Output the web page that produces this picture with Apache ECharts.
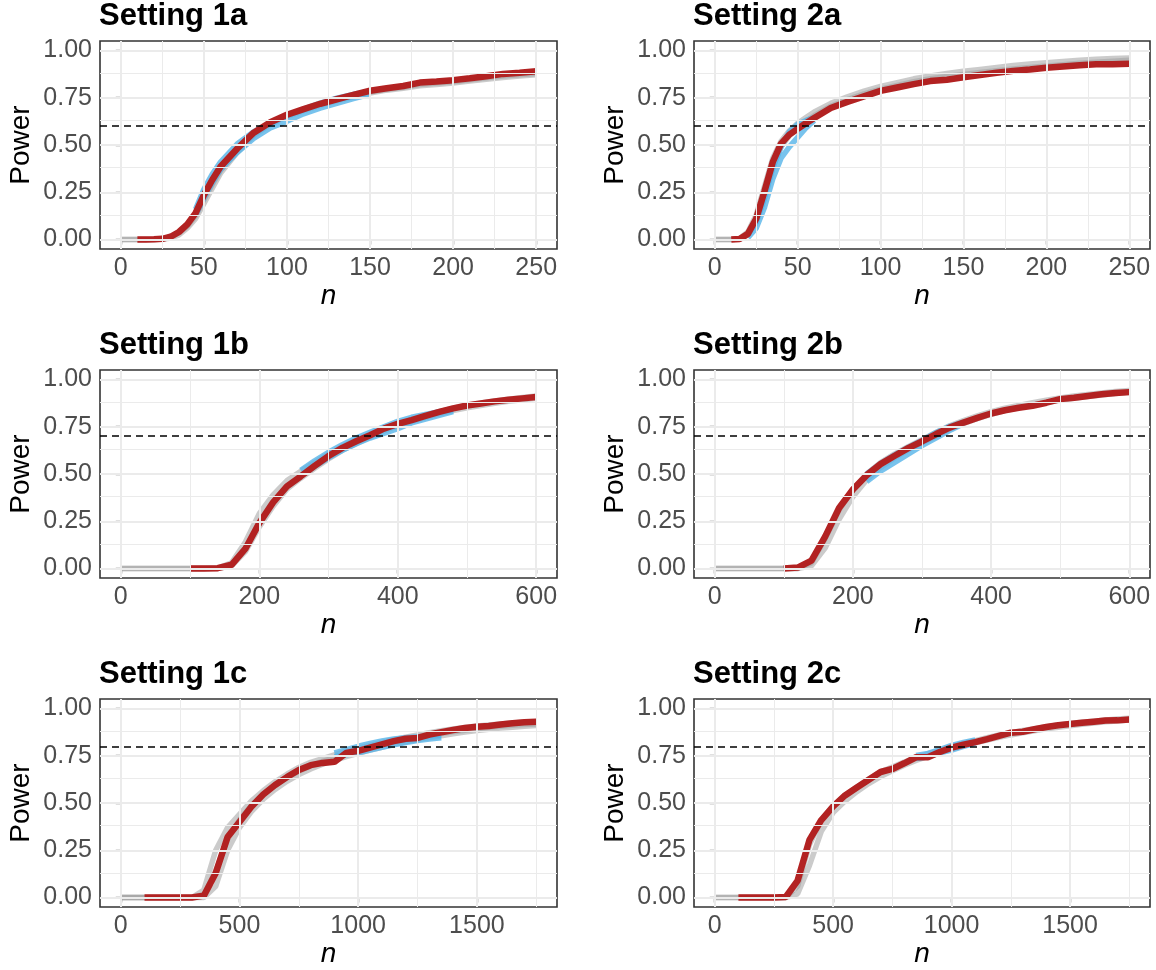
<!DOCTYPE html>
<html><head><meta charset="utf-8">
<script src="https://cdn.jsdelivr.net/npm/echarts@6/dist/echarts.min.js"></script>
<style>html,body{margin:0;padding:0;background:#fff}#c{width:1156px;height:970px}</style>
</head><body><div id="c"></div>
<script>
// ---------- data ----------
const titles = ['Setting 1a','Setting 2a','Setting 1b','Setting 2b','Setting 1c','Setting 2c'];
const thresholds = [0.6, 0.6, 0.7, 0.7, 0.8, 0.8];
const yTicks = [0, 0.25, 0.5, 0.75, 1];
const yMinor = [0.125, 0.375, 0.625, 0.875];

const xTicksA = [0, 50, 100, 150, 200, 250];
const xMinorA = [25, 75, 125, 175, 225];
const xTicksB = [0, 200, 400, 600];
const xMinorB = [100, 300, 500];
const xTicksC = [0, 500, 1000, 1500];
const xMinorC = [250, 750, 1250, 1750];
const xRangeA = [-12.5, 262.5];
const xRangeB = [-30, 630];
const xRangeC = [-87.5, 1837.5];

const nA = [0,5,10,15,20,25,30,35,40,45,50,55,60,70,80,90,100,110,120,130,140,150,160,170,180,190,200,210,220,230,240,250];
const nB = [0,20,40,60,80,100,120,140,160,180,200,220,240,260,280,300,320,340,360,380,400,420,440,460,480,500,520,540,560,580,600];
const nC = [0,50,100,150,200,250,300,350,400,450,500,550,600,650,700,750,800,850,900,950,1000,1050,1100,1150,1200,1250,1300,1350,1400,1450,1500,1550,1600,1650,1700,1750];

// Setting 1a
const red1a   = [null,null,0,0,0.001,0.004,0.015,0.04,0.08,0.14,0.235,0.315,0.385,0.48,0.565,0.62,0.66,0.69,0.718,0.742,0.765,0.787,0.80,0.812,0.83,0.836,0.843,0.853,0.864,0.876,0.882,0.89];
const grayA1a = [0,0,0,0,0,0.003,0.012,0.035,0.07,0.125,0.21,0.29,0.365,0.47,0.555,0.615,0.655,0.688,0.715,0.74,0.76,0.78,0.795,0.805,0.82,0.828,0.835,0.845,0.855,0.865,0.872,0.878];
const grayB1a = [0,0,0,0,0,0.002,0.008,0.025,0.06,0.11,0.19,0.27,0.35,0.46,0.55,0.61,0.65,0.682,0.71,0.735,0.755,0.775,0.79,0.8,0.813,0.82,0.828,0.838,0.848,0.857,0.865,0.872];
const blueHi1a = [null,null,null,null,null,null,null,null,null,0.16,0.265,0.345,0.41,0.505,0.57,0.615,0.655,0.69,0.722,0.748,0.768,0.785,null,null,null,null,null,null,null,null,null,null];
const blueLo1a = [null,null,null,null,null,null,null,null,null,0.13,0.22,0.30,0.37,0.46,0.535,0.59,0.625,0.665,0.695,0.72,0.745,0.768,null,null,null,null,null,null,null,null,null,null];

// Setting 2a
const red2a    = [null,null,0,0.003,0.03,0.11,0.255,0.41,0.507,0.555,0.585,0.615,0.643,0.696,0.728,0.757,0.786,0.804,0.822,0.838,0.845,0.858,0.87,0.882,0.892,0.899,0.908,0.915,0.922,0.927,0.927,0.93];
const grayHi2a = [0,0,0,0.005,0.04,0.13,0.28,0.43,0.52,0.575,0.615,0.645,0.675,0.72,0.755,0.785,0.81,0.83,0.85,0.865,0.878,0.89,0.9,0.91,0.92,0.928,0.935,0.942,0.948,0.953,0.957,0.96];
const grayLo2a = [0,0,0,0.003,0.025,0.09,0.22,0.38,0.49,0.55,0.59,0.625,0.655,0.705,0.74,0.77,0.795,0.815,0.835,0.85,0.862,0.873,0.883,0.893,0.902,0.91,0.918,0.925,0.932,0.938,0.943,0.948];
const blueHi2a = [null,null,null,null,0.025,0.09,0.22,0.38,0.49,0.57,0.61,0.63,0.645,null,null,null,null,null,null,null,null,null,null,null,null,null,null,null,null,null,null,null];
const blueLo2a = [null,null,null,null,0.01,0.06,0.17,0.32,0.43,0.49,0.54,0.59,0.63,null,null,null,null,null,null,null,null,null,null,null,null,null,null,null,null,null,null,null];

// Setting 1b
const red1b    = [null,null,null,null,null,0,0,0.002,0.02,0.105,0.24,0.35,0.435,0.488,0.543,0.595,0.638,0.673,0.705,0.74,0.765,0.785,0.807,0.828,0.847,0.862,0.873,0.884,0.893,0.9,0.907];
const grayHi1b = [0,0,0,0,0,0,0,0.003,0.03,0.14,0.29,0.39,0.465,0.515,0.56,0.605,0.645,0.68,0.71,0.74,0.765,0.787,0.808,0.83,0.848,0.862,0.875,0.886,0.896,0.905,0.913];
const grayLo1b = [0,0,0,0,0,0,0,0,0.015,0.09,0.22,0.33,0.42,0.478,0.53,0.58,0.625,0.66,0.695,0.728,0.755,0.778,0.8,0.818,0.835,0.85,0.862,0.874,0.884,0.893,0.9];
const blueHi1b = [null,null,null,null,null,null,null,null,null,null,null,null,null,0.52,0.57,0.615,0.655,0.69,0.72,0.75,0.778,0.8,0.815,0.83,0.84,null,null,null,null,null,null];
const blueLo1b = [null,null,null,null,null,null,null,null,null,null,null,null,null,0.49,0.54,0.585,0.625,0.66,0.69,0.715,0.74,0.77,0.79,0.81,0.83,null,null,null,null,null,null];

// Setting 2b
const red2b    = [null,null,null,null,null,0,0.005,0.042,0.17,0.32,0.418,0.494,0.552,0.595,0.637,0.672,0.71,0.745,0.772,0.797,0.82,0.837,0.85,0.861,0.877,0.896,0.903,0.913,0.922,0.928,0.933];
const grayHi2b = [0,0,0,0,0,0,0,0.03,0.16,0.31,0.42,0.5,0.56,0.605,0.645,0.682,0.72,0.755,0.782,0.807,0.83,0.848,0.863,0.877,0.89,0.902,0.912,0.921,0.929,0.936,0.942];
const grayLo2b = [0,0,0,0,0,0,0,0.015,0.11,0.26,0.38,0.47,0.535,0.585,0.628,0.665,0.7,0.738,0.767,0.793,0.815,0.835,0.85,0.864,0.878,0.89,0.9,0.91,0.918,0.925,0.932];
const blueHi2b = [null,null,null,null,null,null,null,null,null,null,null,0.5,0.555,0.6,0.64,0.678,0.718,0.752,0.775,null,null,null,null,null,null,null,null,null,null,null,null];
const blueLo2b = [null,null,null,null,null,null,null,null,null,null,null,0.46,0.515,0.56,0.605,0.65,0.69,0.73,0.765,null,null,null,null,null,null,null,null,null,null,null,null];

// Setting 1c
const red1c     = [null,null,0,0,0,0,0,0.01,0.13,0.32,0.4,0.48,0.545,0.595,0.637,0.675,0.7,0.712,0.718,0.765,0.776,0.793,0.81,0.827,0.84,0.844,0.862,0.874,0.886,0.897,0.903,0.907,0.915,0.922,0.927,0.93];
const grayHi1c  = [0,0,0,0,0,0,0,0.04,0.25,0.37,0.44,0.51,0.565,0.612,0.652,0.688,0.715,0.735,0.755,0.775,0.79,0.805,0.82,0.835,0.848,0.86,0.872,0.882,0.892,0.9,0.907,0.913,0.918,0.923,0.927,0.93];
const grayMid1c = [0,0,0,0,0,0,0,0.015,0.14,0.31,0.41,0.485,0.545,0.593,0.635,0.668,0.697,0.72,0.74,0.76,0.777,0.793,0.808,0.822,0.835,0.847,0.858,0.868,0.877,0.885,0.893,0.9,0.906,0.911,0.915,0.918];
const grayLo1c  = [0,0,0,0,0,0,0,0,0.06,0.25,0.37,0.455,0.52,0.572,0.615,0.65,0.68,0.705,0.725,0.745,0.763,0.78,0.795,0.81,0.823,0.835,0.846,0.856,0.866,0.875,0.883,0.89,0.896,0.901,0.906,0.91];
const blueHi1c  = [null,null,null,null,null,null,null,null,null,null,null,null,null,null,null,null,null,null,0.765,0.782,0.8,0.815,0.828,0.838,0.845,0.85,0.855,0.86,null,null,null,null,null,null,null,null];
const blueLo1c  = [null,null,null,null,null,null,null,null,null,null,null,null,null,null,null,null,null,null,0.745,0.755,0.765,0.78,0.795,0.808,0.82,0.83,0.838,0.845,null,null,null,null,null,null,null,null];

// Setting 2c
const red2c    = [null,null,0,0,0,0,0.003,0.09,0.305,0.41,0.482,0.54,0.582,0.623,0.664,0.68,0.71,0.742,0.742,0.77,0.793,0.808,0.822,0.838,0.855,0.872,0.877,0.89,0.902,0.911,0.918,0.924,0.93,0.936,0.937,0.942];
const grayHi2c = [0,0,0,0,0,0,0,0.06,0.28,0.41,0.485,0.54,0.585,0.627,0.665,0.69,0.717,0.74,0.76,0.78,0.8,0.815,0.83,0.845,0.86,0.872,0.883,0.893,0.903,0.912,0.92,0.927,0.933,0.939,0.944,0.948];
const grayLo2c = [0,0,0,0,0,0,0,0.02,0.17,0.35,0.45,0.51,0.56,0.603,0.64,0.67,0.7,0.725,0.747,0.768,0.787,0.803,0.818,0.833,0.847,0.86,0.871,0.882,0.892,0.901,0.909,0.916,0.923,0.929,0.934,0.939];
const blueHi2c = [null,null,null,null,null,null,null,null,null,null,null,null,null,null,null,null,null,0.752,0.762,0.782,0.805,0.82,0.833,null,null,null,null,null,null,null,null,null,null,null,null,null];
const blueLo2c = [null,null,null,null,null,null,null,null,null,null,null,null,null,null,null,null,null,0.735,0.745,0.765,0.78,0.8,0.815,null,null,null,null,null,null,null,null,null,null,null,null,null];

// ---------- build ----------
const FONT = '"Liberation Sans", Arial, Helvetica, sans-serif';
const panels = [
  {n:nA, xr:xRangeA, xt:xTicksA, xm:xMinorA, red:red1a, gray:[grayA1a, grayB1a], blue:[blueHi1a, blueLo1a]},
  {n:nA, xr:xRangeA, xt:xTicksA, xm:xMinorA, red:red2a, gray:[grayHi2a, grayLo2a], blue:[blueHi2a, blueLo2a]},
  {n:nB, xr:xRangeB, xt:xTicksB, xm:xMinorB, red:red1b, gray:[grayHi1b, grayLo1b], blue:[blueHi1b, blueLo1b]},
  {n:nB, xr:xRangeB, xt:xTicksB, xm:xMinorB, red:red2b, gray:[grayHi2b, grayLo2b], blue:[blueHi2b, blueLo2b]},
  {n:nC, xr:xRangeC, xt:xTicksC, xm:xMinorC, red:red1c, gray:[grayHi1c, grayMid1c, grayLo1c], blue:[blueHi1c, blueLo1c]},
  {n:nC, xr:xRangeC, xt:xTicksC, xm:xMinorC, red:red2c, gray:[grayHi2c, grayLo2c], blue:[blueHi2c, blueLo2c]}
];
const colLeft = [100, 694], colWidth = [457, 456];
const rowTop = [41, 370, 699], rowH = 208;

function zip(n, ys) { return n.map((x, i) => [x, ys[i]]).filter(p => p[1] !== null && p[1] !== undefined); }

const grid = [], xAxis = [], yAxis = [], series = [], title = [];
panels.forEach((p, i) => {
  const col = i % 2, row = Math.floor(i / 2);
  grid.push({left: colLeft[col], top: rowTop[row], width: colWidth[col], height: rowH,
    show: true, backgroundColor: '#ffffff', borderColor: '#333333', borderWidth: 1.6, containLabel: false, z: 0});
  title.push({text: titles[i], left: colLeft[col] - 1, top: rowTop[row] - 40, padding: 0,
    textStyle: {fontSize: 31, fontWeight: 'bold', color: '#000', fontFamily: FONT}});
  xAxis.push({gridIndex: i, type: 'value', min: p.xr[0], max: p.xr[1],
    axisLine: {show: false},
    axisTick: {show: true, customValues: p.xt, length: 5, lineStyle: {color: '#333333', width: 1.3}},
    axisLabel: {customValues: p.xt, formatter: v => String(v), fontSize: 25, color: '#4D4D4D', fontFamily: FONT, margin: 7},
    splitLine: {show: false},
    name: 'n', nameLocation: 'middle', nameGap: 31,
    nameTextStyle: {fontStyle: 'italic', fontSize: 28, color: '#000', fontFamily: FONT}});
  yAxis.push({gridIndex: i, type: 'value', min: -0.05, max: 1.05,
    axisLine: {show: false},
    axisTick: {show: true, customValues: yTicks, length: 5, lineStyle: {color: '#333333', width: 1.3}},
    axisLabel: {customValues: yTicks, formatter: v => v.toFixed(2), fontSize: 25, color: '#4D4D4D', fontFamily: FONT, margin: 8},
    splitLine: {show: false},
    name: 'Power', nameLocation: 'middle', nameRotate: 90, nameGap: 65,
    nameTextStyle: {fontSize: 28, color: '#000', fontFamily: FONT}});
  const gl = [];
  p.xm.forEach(v => gl.push({xAxis: v, lineStyle: {color: '#EBEBEB', width: 1, type: 'solid'}}));
  yMinor.forEach(v => gl.push({yAxis: v, lineStyle: {color: '#EBEBEB', width: 1, type: 'solid'}}));
  p.xt.forEach(v => gl.push({xAxis: v, lineStyle: {color: '#EBEBEB', width: 2, type: 'solid'}}));
  yTicks.forEach(v => gl.push({yAxis: v, lineStyle: {color: '#EBEBEB', width: 2, type: 'solid'}}));
  series.push({type: 'line', xAxisIndex: i, yAxisIndex: i, data: [], z: 1, silent: true,
    markLine: {silent: true, symbol: ['none', 'none'], label: {show: false}, animation: false, data: gl}});
  p.gray.forEach(g => series.push({type: 'line', xAxisIndex: i, yAxisIndex: i, data: zip(p.n, g), z: 2,
    showSymbol: false, silent: true, lineStyle: {color: 'rgba(160,160,160,0.55)', width: 5.5}}));
  p.blue.forEach(b => series.push({type: 'line', xAxisIndex: i, yAxisIndex: i, data: zip(p.n, b), z: 3,
    showSymbol: false, silent: true, lineStyle: {color: 'rgba(86,180,233,0.8)', width: 5.5}}));
  series.push({type: 'line', xAxisIndex: i, yAxisIndex: i, data: zip(p.n, p.red), z: 4,
    showSymbol: false, silent: true, lineStyle: {color: '#B22222', width: 6.5}});
  series.push({type: 'line', xAxisIndex: i, yAxisIndex: i, data: [], z: 5, silent: true,
    markLine: {silent: true, symbol: ['none', 'none'], label: {show: false}, animation: false,
      data: [{yAxis: thresholds[i], lineStyle: {color: '#000', width: 1.5, type: [7, 5]}}]}});
});

const chart = echarts.init(document.getElementById('c'), null, {renderer: 'canvas'});
chart.setOption({animation: false, backgroundColor: '#ffffff', title, grid, xAxis, yAxis, series});
</script></body></html>
